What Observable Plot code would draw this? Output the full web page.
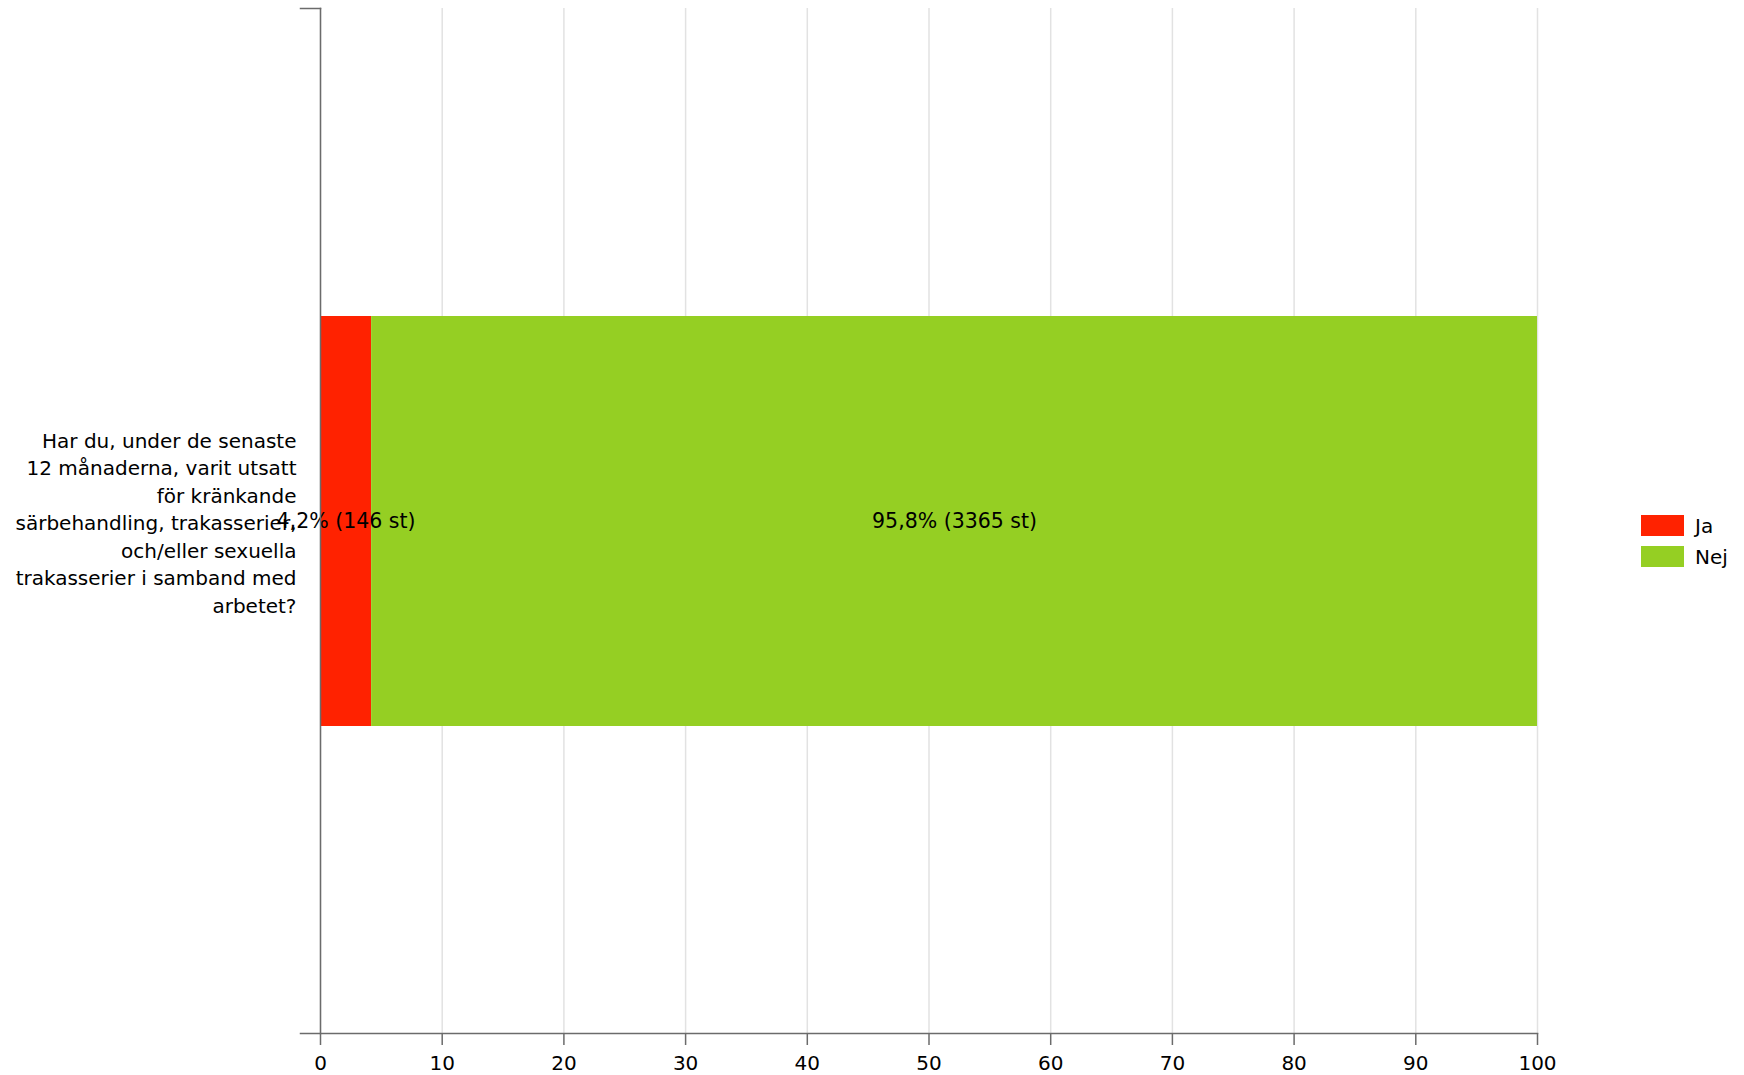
<!DOCTYPE html>
<html>
<head>
<meta charset="utf-8">
<script src="https://cdn.jsdelivr.net/npm/d3@7"></script>
<script src="https://cdn.jsdelivr.net/npm/@observablehq/plot@0.6"></script>
<style>
  html, body { margin: 0; padding: 0; background: #fff; }
  #wrap { position: relative; width: 1744px; height: 1075px; font-family: "DejaVu Sans", sans-serif; }
  #legend { position: absolute; left: 1641px; top: 515px; font-size: 20px; color: #000; }
  .item { display: flex; align-items: center; height: 21px; margin-bottom: 10px; }
  .sw { width: 43px; height: 21px; margin-right: 11px; }
</style>
</head>
<body>
<div id="wrap"></div>
<script>
const categories = ["Har du, under de senaste\n12 månaderna, varit utsatt\nför kränkande\nsärbehandling, trakasserier,\noch/eller sexuella\ntrakasserier i samband med\narbetet?"];
const answers = ["Ja", "Nej"];
const percents = [4.2, 95.8];
const counts = [146, 3365];
const colors = ["#ff2200", "#95cf23"];
const xTicks = [0, 10, 20, 30, 40, 50, 60, 70, 80, 90, 100];

const W = 1744, H = 1075;
const mL = 320, mR = 207, mT = 8, mB = 42;
const plotW = W - mL - mR;
const axisColor = "#6b6b6b";

const rows = answers.map((a, i) => ({question: categories[0], answer: a, pct: percents[i], count: counts[i]}));
const fmt = v => v.toFixed(1).replace(".", ",");

const chart = Plot.plot({
  width: W,
  height: H,
  marginLeft: mL,
  marginRight: mR,
  marginTop: mT,
  marginBottom: mB,
  style: {fontFamily: "DejaVu Sans, sans-serif", fontSize: "20px", color: "#000", background: "#fff"},
  x: {domain: [0, 100]},
  y: {type: "band", domain: categories, paddingInner: 0, paddingOuter: 0.75},
  color: {domain: answers, range: colors},
  marks: [
    Plot.gridX(xTicks, {stroke: "#e2e2e2", strokeOpacity: 1, strokeWidth: 1.5}),
    Plot.barX(rows, Plot.stackX({x: "pct", y: "question", fill: "answer", order: null})),
    Plot.textX(rows, Plot.stackX({x: "pct", y: "question", order: null,
      text: d => `${fmt(d.pct)}% (${d.count} st)`, fontSize: 20.5, fill: "#000"})),
    Plot.frame({anchor: "left", stroke: axisColor, strokeWidth: 1.5}),
    Plot.frame({anchor: "bottom", stroke: axisColor, strokeWidth: 1.5, insetLeft: -20}),
    Plot.frame({anchor: "top", stroke: axisColor, strokeWidth: 1.5, insetLeft: -20, insetRight: plotW}),
    Plot.axisX(xTicks, {tickSize: 12, tickPadding: 10, fontSize: 20, stroke: axisColor, strokeWidth: 1.5, fill: "#000", label: null}),
    Plot.axisY({tickSize: 0, tickPadding: 24, fontSize: 20, lineHeight: 1.375, fill: "#000", label: null})
  ]
});

const wrap = document.getElementById("wrap");
wrap.appendChild(chart);

const legend = document.createElement("div");
legend.id = "legend";
answers.forEach((a, i) => {
  const it = document.createElement("div");
  it.className = "item";
  const sw = document.createElement("div");
  sw.className = "sw";
  sw.style.background = colors[i];
  const t = document.createElement("span");
  t.textContent = a;
  it.appendChild(sw);
  it.appendChild(t);
  legend.appendChild(it);
});
wrap.appendChild(legend);
</script>
</body>
</html>
